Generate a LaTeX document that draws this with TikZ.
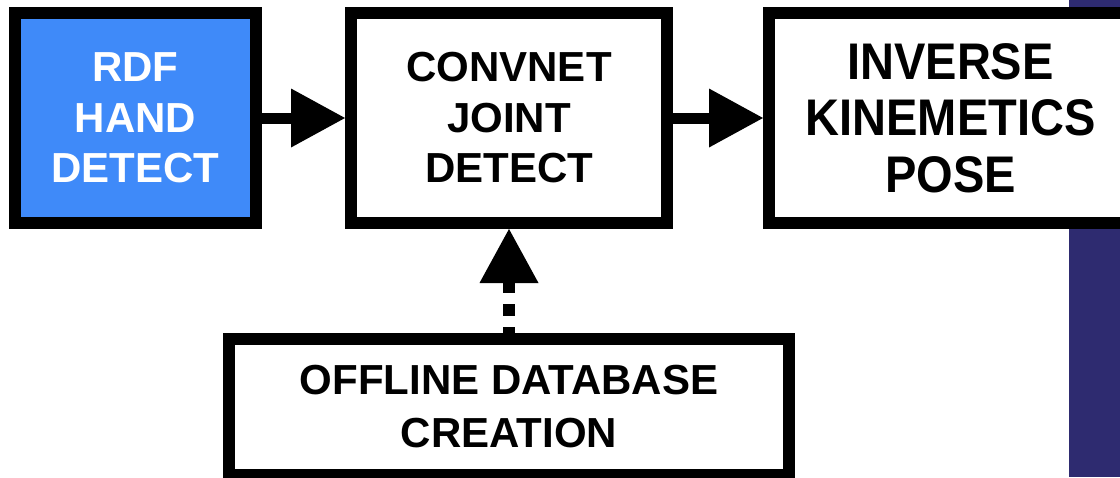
\documentclass[tikz,border=0pt]{standalone}
\usepackage{fontspec}
\setmainfont{Liberation Sans}
\newfontfamily\narrowsans[FakeStretch=0.913]{Liberation Sans}
\usetikzlibrary{arrows.meta}
\definecolor{rdfblue}{HTML}{3F8AF9}
\definecolor{stripblue}{HTML}{2E2B70}
\begin{document}
\begin{tikzpicture}[x=1pt,y=-1pt,
  box/.style={draw=black, line width=12pt, fill=white, inner sep=0pt, align=center,
    font=\bfseries\fontsize{42}{50.5}\selectfont},
  flow/.style={line width=11pt, -{Triangle[length=54pt,width=59pt,line width=0pt]}},
  dotflow/.style={line width=12pt, dash pattern=on 11.5pt off 11.5pt, dash phase=5.5pt,
    -{Triangle[length=54pt,width=59pt,line width=0pt]}},
]
\useasboundingbox (0,0) rectangle (1120,477);
\clip (0,0) rectangle (1120,477);
\fill[stripblue] (1069,0) rectangle (1120,477);

\node[box, fill=rdfblue, text=white, minimum width=241pt, minimum height=210pt] (rdf) at (135.5,118) {RDF\\HAND\\DETECT};
\node[box, minimum width=316pt, minimum height=210pt] (conv) at (509,118) {CONVNET\\JOINT\\DETECT};
\node[box, minimum width=363pt, minimum height=210pt,
  font=\narrowsans\bfseries\fontsize{51.5}{56.5}\selectfont] (ik) at (950.5,118) {INVERSE\\KINEMETICS\\POSE};
\node[box, minimum width=560pt, minimum height=136pt,
  font=\bfseries\fontsize{42}{53}\selectfont] (off) at (509,407) {OFFLINE DATABASE\\CREATION};

\draw[flow] (rdf) -- (conv);
\draw[flow] (conv) -- (ik);
\draw[dotflow] (off.north) -- (conv.south);
\end{tikzpicture}
\end{document}
